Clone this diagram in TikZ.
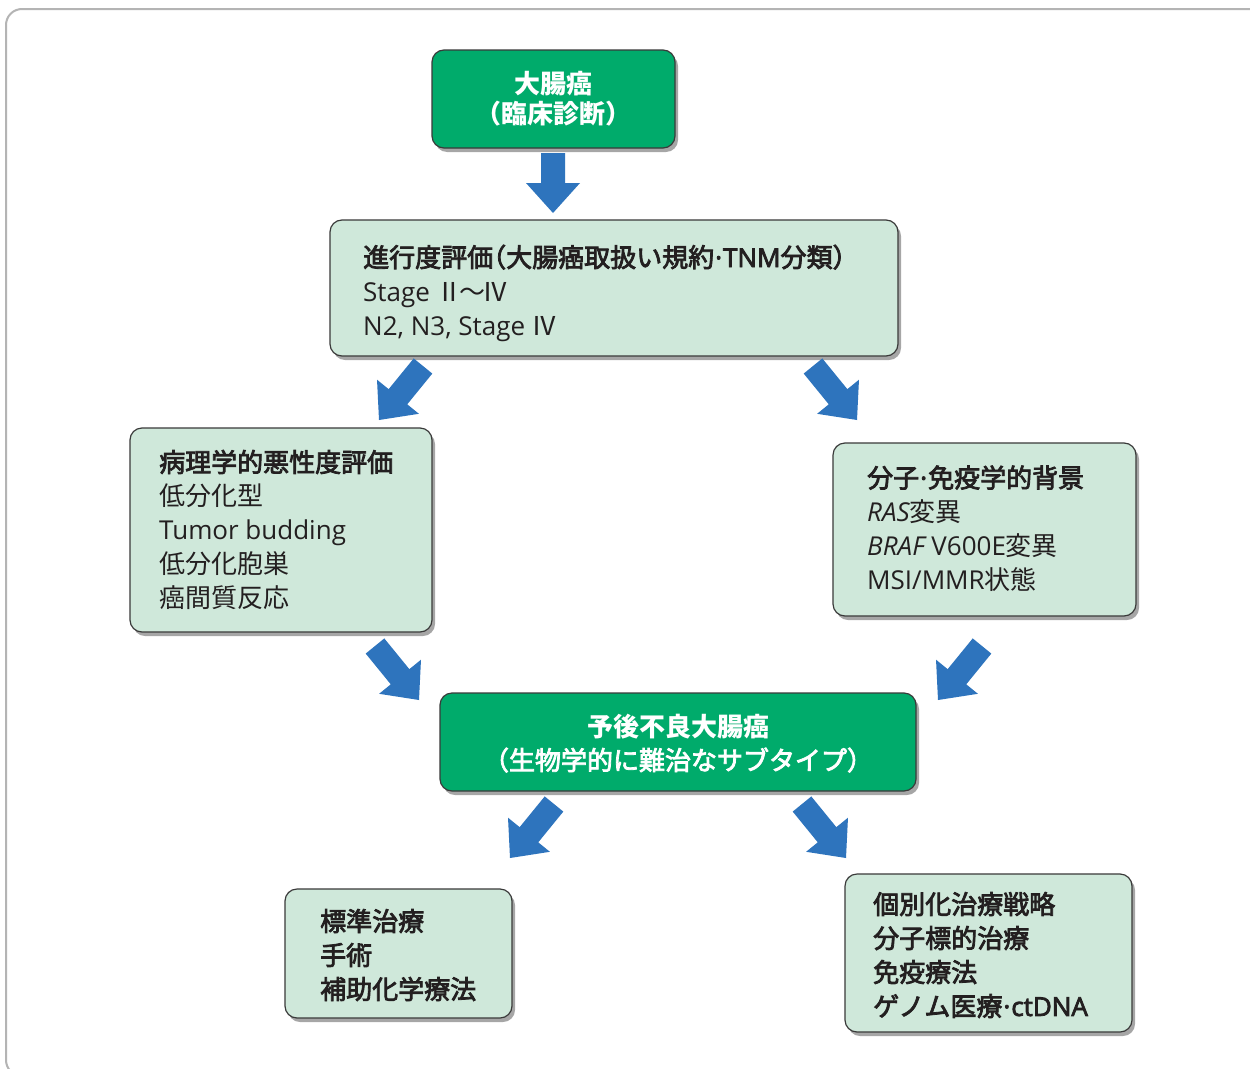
\documentclass[tikz,border=0pt]{standalone}
\usepackage{fontspec}
\setmainfont{Noto Sans CJK JP}[RawFeature=+halt]
\newfontfamily\medfont{Noto Sans CJK JP}[FakeBold=3, RawFeature=+halt]
\newfontfamily\lat{Open Sans}
\newfontfamily\latmed{Open Sans}[FakeBold=3]
\newcommand{\mdot}{{\lat\kern1pt·\kern1pt}}
\usetikzlibrary{calc,shadows}
\definecolor{framegray}{HTML}{B4B4B4}
\definecolor{darkgreen}{HTML}{00AB6B}
\definecolor{lightgreen}{HTML}{CFE8DA}
\definecolor{boxline}{HTML}{3A3A3A}
\definecolor{textdark}{HTML}{231F20}
\definecolor{arrowblue}{HTML}{2E74BD}
\newcommand{\blockarrow}[2]{%
  \coordinate (#1h) at ($(#2)!30pt!(#1)$);
  \fill[arrowblue] ($(#1)!12pt!90:(#2)$) -- ($(#1h)!12pt!90:(#2)$) -- ($(#1h)!27pt!90:(#2)$) -- (#2) -- ($(#1h)!27pt!-90:(#2)$) -- ($(#1h)!12pt!-90:(#2)$) -- ($(#1)!12pt!-90:(#2)$) -- cycle;}
\tikzset{
  basebox/.style={draw=boxline, line width=1.2pt, rounded corners=12pt, anchor=north west, outer sep=0pt, inner sep=0pt,
    drop shadow={shadow xshift=3pt, shadow yshift=-4pt, fill=black, opacity=0.35}},
  lbox/.style={basebox, fill=lightgreen},
  gbox/.style={basebox, fill=darkgreen},
  btext/.style={anchor=west, align=left, inner sep=0pt, text=textdark, font=\fontsize{26pt}{34pt}\selectfont},
  wtext/.style={align=center, inner sep=0pt, text=white, font=\fontsize{26pt}{30pt}\selectfont},
}
\begin{document}
\begin{tikzpicture}[x=1pt,y=-1pt]
\useasboundingbox (0,0) rectangle (1250,1068);
\fill[white] (0,0) rectangle (1250,1068);
\draw[framegray, line width=2pt, rounded corners=16pt] (6,9) rectangle (1300,1076);

% boxes
\node[gbox, minimum width=243pt, minimum height=98pt] (top) at (432,50) {};
\node[wtext] (toptxt) at (top.center) {\bfseries 大腸癌\\\bfseries （臨床診断）};

\node[lbox, minimum width=568pt, minimum height=136pt] (stage) at (330,220) {};
\node[btext] (stagetxt) at ([xshift=33pt,yshift=-5pt]stage.west) {{\medfont 進行度評価（大腸癌取扱い規約{\latmed\kern1pt·\kern1pt TNM}分類）}\\{\lat Stage }Ⅱ\kern-3pt〜\kern-3pt Ⅳ\\{\lat N2, N3, Stage }Ⅳ};

\node[lbox, minimum width=302pt, minimum height=204pt] (path) at (130,428) {};
\node[btext] (pathtxt) at ([xshift=29pt]path.west) {{\medfont 病理学的悪性度評価}\\低分化型\\{\lat Tumor budding}\\低分化胞巣\\癌間質反応};

\node[lbox, minimum width=303pt, minimum height=173pt] (mol) at (833,443) {};
\node[btext] (moltxt) at ([xshift=34pt,yshift=1pt]mol.west) {{\medfont 分子{\latmed\kern1pt·\kern1pt}免疫学的背景}\\{\lat\itshape RAS}変異\\{\lat\itshape BRAF}{\lat\ V600E}変異\\{\lat MSI/MMR}状態};

\node[gbox, minimum width=476pt, minimum height=98pt] (poor) at (440,693) {};
\node[wtext, font=\fontsize{26pt}{33pt}\selectfont] (poortxt) at ([yshift=-1.5pt]poor.center) {\bfseries 予後不良大腸癌\\{\medfont （生物学的に難治なサブタイプ）}};

\node[lbox, minimum width=227pt, minimum height=129pt] (std) at (285,889) {};
\node[btext, font=\medfont\fontsize{26pt}{34pt}\selectfont] (stdtxt) at ([xshift=35pt,yshift=-1.5pt]std.west) {標準治療\\手術\\補助化学療法};

\node[lbox, minimum width=287pt, minimum height=158pt] (pers) at (845,874) {};
\node[btext, font=\medfont\fontsize{26pt}{34pt}\selectfont] (perstxt) at ([xshift=28pt,yshift=-2pt]pers.west) {個別化治療戦略\\分子標的治療\\免疫療法\\ゲノム医療{\latmed\kern1pt·\kern1pt ctDNA}};

% arrows
\coordinate (a1) at (553,153); \coordinate (a1t) at (553,213);
\coordinate (a2) at (423,366); \coordinate (a2t) at (379,420);
\coordinate (a3) at (813,366); \coordinate (a3t) at (857,420);
\coordinate (a4) at (375,646); \coordinate (a4t) at (419,700);
\coordinate (a5) at (982,646); \coordinate (a5t) at (938,700);
\coordinate (a6) at (554,804); \coordinate (a6t) at (510,858);
\coordinate (a7) at (802,804); \coordinate (a7t) at (846,858);
\blockarrow{a1}{a1t}
\blockarrow{a2}{a2t}
\blockarrow{a3}{a3t}
\blockarrow{a4}{a4t}
\blockarrow{a5}{a5t}
\blockarrow{a6}{a6t}
\blockarrow{a7}{a7t}
\end{tikzpicture}
\end{document}
